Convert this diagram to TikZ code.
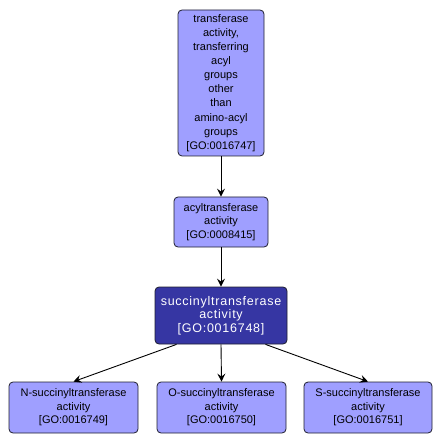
\documentclass[tikz,border=0pt]{standalone}
\usepackage{fontspec}
\setmainfont{Liberation Sans}
\newfontfamily\wideface[LetterSpace=6]{Liberation Sans}
\usetikzlibrary{arrows.meta}
\definecolor{Term}{HTML}{9F9FFF}
\definecolor{Focus}{HTML}{3636A3}
\definecolor{Rim}{HTML}{1E1E2E}
\tikzset{
  term/.style={
    rounded corners=4pt, draw=Rim, line width=0.8pt, fill=Term, inner sep=0pt,
    align=center, font=\fontsize{11}{13.5}\selectfont
  },
  focus/.style={
    term, fill=Focus, text=white,
    font=\wideface\fontsize{12.5}{13.5}\selectfont
  },
  isa/.style={-{Stealth[length=8pt,width=8pt,inset=3pt]}, line width=0.9pt, draw=black}
}

\begin{document}
\begin{tikzpicture}[x=1pt,y=-1pt]
    \useasboundingbox (0,0) rectangle (442,443);
    \node[term,minimum width=86pt,minimum height=146pt,font=\fontsize{11}{14.1}\selectfont] (transf) at (221,83)
      {transferase\\activity,\\transferring\\acyl\\groups\\other\\than\\amino-acyl\\groups\\{[GO:0016747]}};
    \node[term,minimum width=94pt,minimum height=50pt] (acyl) at (221,222)
      {acyltransferase\\activity\\{[GO:0008415]}};
    \node[focus,minimum width=132pt,minimum height=57pt] (succ) at (221,315.5)
      {succinyltransferase\\activity\\{[GO:0016748]}};
    \node[term,minimum width=129pt,minimum height=51pt] (nsucc) at (73.5,407.5)
      {N-succinyltransferase\\activity\\{[GO:0016749]}};
    \node[term,minimum width=129pt,minimum height=51pt] (osucc) at (221.5,407.5)
      {O-succinyltransferase\\activity\\{[GO:0016750]}};
    \node[term,minimum width=128pt,minimum height=51pt] (ssucc) at (368,407.5)
      {S-succinyltransferase\\activity\\{[GO:0016751]}};
    \draw[isa] (transf) -- (acyl);
    \draw[isa] (acyl) -- (succ);
    \draw[isa] (succ.213) -- (nsucc.north);
    \draw[isa] (succ.south) -- (osucc.north);
    \draw[isa] (succ.327) -- (ssucc.north);
  \end{tikzpicture}
\end{document}
